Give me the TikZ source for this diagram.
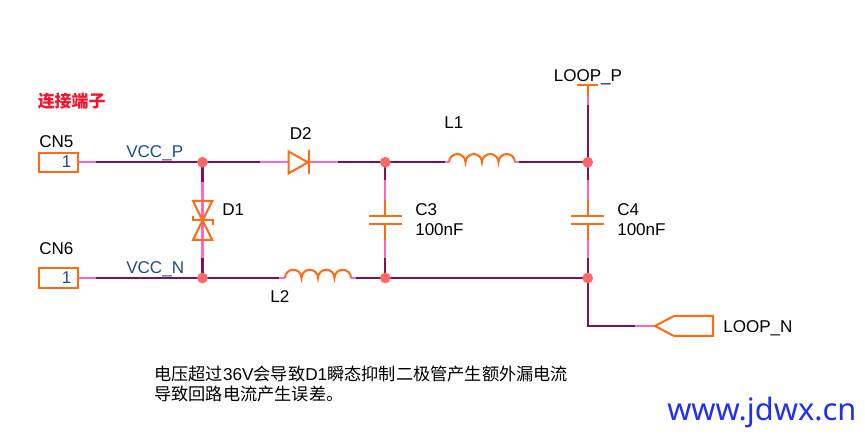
\documentclass[tikz,border=0pt]{standalone}
\usepackage{fontspec}
\setmainfont{Liberation Sans}
\newfontfamily\cjk{Noto Sans CJK SC}
\newfontfamily\urlf{Noto Sans}
\definecolor{wirec}{HTML}{7F1350}
\definecolor{pinc}{HTML}{FF66CC}
\definecolor{symc}{HTML}{FF6A13}
\definecolor{dotc}{HTML}{FF6666}
\definecolor{netc}{HTML}{1F4E8C}
\definecolor{redc}{HTML}{F0142D}
\definecolor{urlc}{HTML}{1F30F0}
\tikzset{
 x=0.75pt,y=-0.75pt,
 wire/.style={draw=wirec,line width=1.6pt},
 pinw/.style={draw=pinc,line width=1.6pt},
 sym/.style={draw=symc,line width=1.5pt},
 jdot/.style={circle,fill=dotc,inner sep=0pt,minimum size=8pt},
 lab/.style={font=\fontsize{12.8pt}{15pt}\selectfont,text=black,inner sep=0pt,anchor=base west},
 net/.style={font=\fontsize{12.8pt}{15pt}\selectfont,text=netc,inner sep=0pt,anchor=base west},
 numl/.style={font=\fontsize{12.8pt}{15pt}\selectfont,text=netc,inner sep=0pt,anchor=base},
 cjkt/.style={font=\cjk\fontsize{12.9pt}{15pt}\selectfont,text=black,inner sep=0pt,anchor=west}
}
\newcommand{\coil}[2]{%
 \draw[sym] (#1,#2) arc[start angle=180,end angle=360,radius=8.25]
  arc[start angle=180,end angle=360,radius=8.25]
  arc[start angle=180,end angle=360,radius=8.25]
  arc[start angle=180,end angle=360,radius=8.25];}
\newcommand{\lat}[1]{{\rmfamily #1}}
\begin{document}
\begin{tikzpicture}
\useasboundingbox (0,0) rectangle (865,438);
\fill[white] (0,0) rectangle (865,438);
% junctions
\coordinate (J1) at (202.5,162.3);
\coordinate (J2) at (202.5,278);
\coordinate (J3) at (385.3,162.3);
\coordinate (J4) at (385.3,278);
\coordinate (J5) at (587.7,162.3);
\coordinate (J6) at (587.7,278);
% connectors
\draw[pinw] (77.5,162.3) -- (96,162.3);
\draw[wire] (96,162.3) -- (J1) -- (260,162.3);
\draw[pinw] (260,162.3) -- (288,162.3);
\draw[pinw] (308,162.3) -- (338,162.3);
\draw[wire] (338,162.3) -- (J3) -- (445,162.3);
\draw[pinw] (445,162.3) -- (449,162.3);
\draw[pinw] (515,162.3) -- (519,162.3);
\draw[wire] (519,162.3) -- (J5);
\draw[pinw] (77.5,278) -- (96,278);
\draw[wire] (96,278) -- (J2) -- (279,278);
\draw[pinw] (279,278) -- (285,278);
\draw[pinw] (351,278) -- (356,278);
\draw[wire] (356,278) -- (J4) -- (J6);
% D1 leads
\draw[wire] (J1) -- (202.5,182);
\draw[pinw] (202.5,182) -- (202.5,258);
\draw[wire] (202.5,258) -- (J2);
% C3
\draw[wire] (J3) -- (385.3,180);
\draw[pinw] (385.3,180) -- (385.3,200);
\draw[sym] (385.3,200) -- (385.3,216);
\draw[sym] (369,216) -- (401.6,216);
\draw[sym] (369,224) -- (401.6,224);
\draw[sym] (385.3,224) -- (385.3,240);
\draw[pinw] (385.3,240) -- (385.3,258);
\draw[wire] (385.3,258) -- (J4);
% C4
\draw[wire] (J5) -- (587.7,180);
\draw[pinw] (587.7,180) -- (587.7,200);
\draw[sym] (587.7,200) -- (587.7,216);
\draw[sym] (571,216) -- (604,216);
\draw[sym] (571,224) -- (604,224);
\draw[sym] (587.7,224) -- (587.7,240);
\draw[pinw] (587.7,240) -- (587.7,258);
\draw[wire] (587.7,258) -- (J6);
% LOOP_P
\draw[sym] (577,85) -- (598,85);
\draw[sym] (587.7,85) -- (587.7,96);
\draw[pinw] (587.7,96) -- (587.7,105);
\draw[wire] (587.7,105) -- (J5);
% LOOP_N
\draw[wire] (J6) -- (587.7,326) -- (635,326);
\draw[pinw] (635,326) -- (655,326);
\draw[sym] (655,326) -- (674,316) -- (713,316) -- (713,336) -- (674,336) -- cycle;
% connector boxes
\draw[sym] (39,153) rectangle (77.5,172);
\draw[sym] (39,268) rectangle (77.5,288);
% D2
\draw[sym] (288.5,151.5) -- (308,162.3) -- (288.5,173.5) -- cycle;
\draw[sym] (308.5,150.5) -- (308.5,174.5);
% D1
\draw[sym] (193,201) -- (212.3,201) -- (202.5,220.5) -- cycle;
\draw[sym] (193,240) -- (212.3,240) -- (202.5,220.5) -- cycle;
\draw[sym] (192.5,216) -- (192.5,220.5) -- (212.5,220.5) -- (212.5,225);
% inductors
\coil{449}{162.3}
\coil{285}{278}
% dots
\foreach \j in {J1,J2,J3,J4,J5,J6} \node[jdot] at (\j) {};
% labels
\node[lab] (cn5) at (39,148) {CN5};
\node[lab] (cn6) at (39,255) {CN6};
\node[numl] (n1) at (66.5,168) {1};
\node[numl] (n2) at (66.5,283.5) {1};
\node[net] (vp) at (126,158) {VCC\_P};
\node[net] (vn) at (126,274) {VCC\_N};
\node[lab] (d1) at (222,216) {D1};
\node[lab] (d2) at (289.5,139.5) {D2};
\node[lab] (l1) at (444,129) {L1};
\node[lab] (l2) at (270,303) {L2};
\node[lab] (c3) at (415,216) {C3};
\node[lab] (c3v) at (415,235.5) {100nF};
\node[lab] (c4) at (617,216) {C4};
\node[lab] (c4v) at (617,235.5) {100nF};
\node[lab] (lp) at (553.5,82) {LOOP\_P};
\node[lab] (ln) at (723,332.5) {LOOP\_N};
\node[font=\cjk\bfseries\fontsize{12.7pt}{15pt}\selectfont,text=redc,inner sep=0pt,anchor=west] (ti) at (37.5,100.7) {连接端子};
\node[cjkt] (t1) at (154,373.5) {电压超过\lat{36V}会导致\lat{D1}瞬态抑制二极管产生额外漏电流};
\node[cjkt] (t2) at (154,394) {导致回路电流产生误差。};
\node[font=\urlf\fontsize{23.1pt}{27pt}\selectfont,text=urlc,inner sep=0pt,anchor=west] (url) at (667,412) {www.jdwx.cn};
\end{tikzpicture}
\end{document}
